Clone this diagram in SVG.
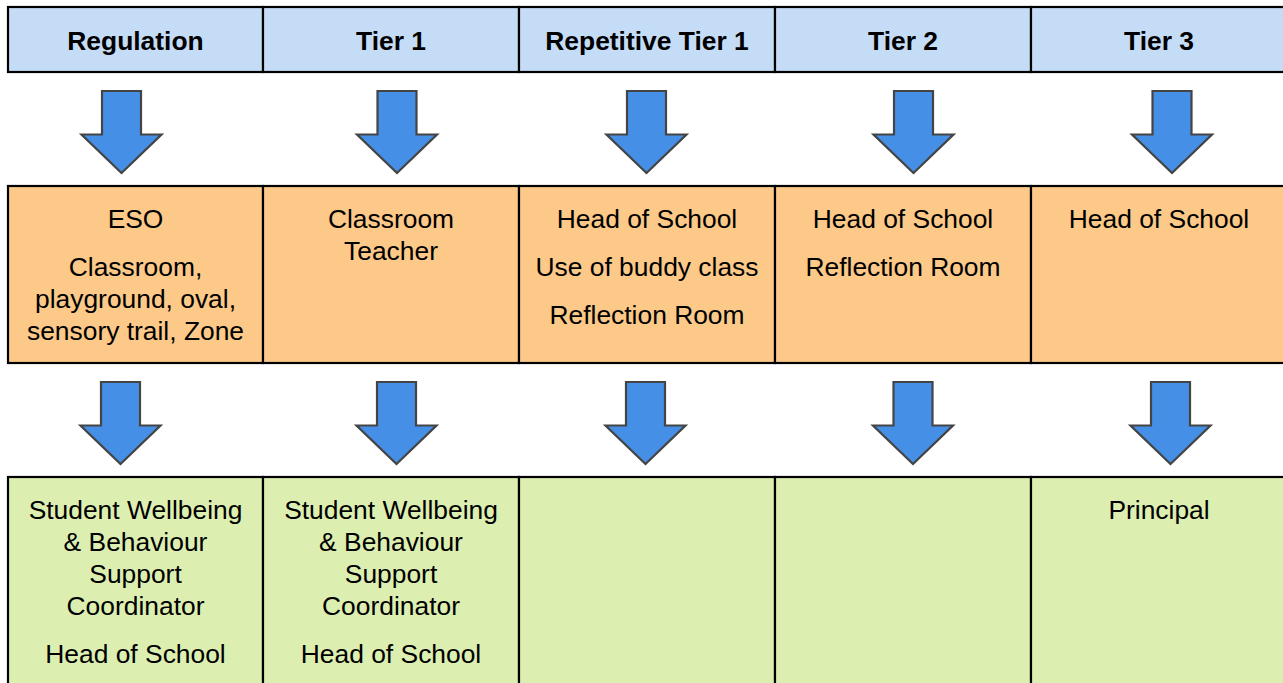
<svg xmlns="http://www.w3.org/2000/svg" xmlns:xlink="http://www.w3.org/1999/xlink" width="1283" height="683" viewBox="0 0 1283 683">
  <style>
    .cell { stroke: #000; stroke-width: 2.2; }
    .head { fill: #c5dcf6; }
    .mid { fill: #fdc988; }
    .low { fill: #dcefb1; }
    text { font-family: "Liberation Sans", Arial, sans-serif; font-size: 26.4px; fill: #000; text-anchor: middle; }
    .bold { font-weight: bold; }
    .arrow { fill: #4590e6; stroke: #444; stroke-width: 2.2; stroke-linejoin: miter; }
  </style>
  <defs>
    <!-- down arrow, origin at top-centre of the shaft -->
    <path id="down" d="M -19.5 0 H 19.5 V 43.5 H 40 L 0 82 L -40 43.5 H -19.5 Z"/>
  </defs>
  <rect width="1283" height="683" fill="#fff"/>

  <!-- header row -->
  <g id="h-regulation"><rect class="cell head" x="8" y="7" width="255" height="65"/><text class="bold" x="135.5" y="49.5">Regulation</text></g>
  <g id="h-tier1"><rect class="cell head" x="263" y="7" width="256" height="65"/><text class="bold" x="391" y="49.5">Tier 1</text></g>
  <g id="h-reptier1"><rect class="cell head" x="519" y="7" width="256" height="65"/><text class="bold" x="647" y="49.5">Repetitive Tier 1</text></g>
  <g id="h-tier2"><rect class="cell head" x="775" y="7" width="256" height="65"/><text class="bold" x="903" y="49.5">Tier 2</text></g>
  <g id="h-tier3"><rect class="cell head" x="1031" y="7" width="260" height="65"/><text class="bold" x="1159" y="49.5">Tier 3</text></g>

  <!-- middle row -->
  <g id="m-regulation"><rect class="cell mid" x="8" y="186" width="255" height="177"/>
    <text x="135.5" y="227.5">ESO</text>
    <text x="135.5" y="275.5">Classroom,</text>
    <text x="135.5" y="307.5">playground, oval,</text>
    <text x="135.5" y="339.5">sensory trail, Zone</text>
  </g>
  <g id="m-tier1"><rect class="cell mid" x="263" y="186" width="256" height="177"/>
    <text x="391" y="227.5">Classroom</text>
    <text x="391" y="259.5">Teacher</text>
  </g>
  <g id="m-reptier1"><rect class="cell mid" x="519" y="186" width="256" height="177"/>
    <text x="647" y="227.5">Head of School</text>
    <text x="647" y="275.5">Use of buddy class</text>
    <text x="647" y="323.5">Reflection Room</text>
  </g>
  <g id="m-tier2"><rect class="cell mid" x="775" y="186" width="256" height="177"/>
    <text x="903" y="227.5">Head of School</text>
    <text x="903" y="275.5">Reflection Room</text>
  </g>
  <g id="m-tier3"><rect class="cell mid" x="1031" y="186" width="260" height="177"/>
    <text x="1159" y="227.5">Head of School</text>
  </g>

  <!-- bottom row -->
  <g id="b-regulation"><rect class="cell low" x="8" y="477" width="255" height="220"/>
    <text x="135.5" y="518.5">Student Wellbeing</text>
    <text x="135.5" y="550.5">&amp; Behaviour</text>
    <text x="135.5" y="582.5">Support</text>
    <text x="135.5" y="614.5">Coordinator</text>
    <text x="135.5" y="662.5">Head of School</text>
  </g>
  <g id="b-tier1"><rect class="cell low" x="263" y="477" width="256" height="220"/>
    <text x="391" y="518.5">Student Wellbeing</text>
    <text x="391" y="550.5">&amp; Behaviour</text>
    <text x="391" y="582.5">Support</text>
    <text x="391" y="614.5">Coordinator</text>
    <text x="391" y="662.5">Head of School</text>
  </g>
  <g id="b-reptier1"><rect class="cell low" x="519" y="477" width="256" height="220"/></g>
  <g id="b-tier2"><rect class="cell low" x="775" y="477" width="256" height="220"/></g>
  <g id="b-tier3"><rect class="cell low" x="1031" y="477" width="260" height="220"/>
    <text x="1159" y="518.5">Principal</text>
  </g>

  <!-- connectors: block arrows between rows -->
  <g id="connectors" class="arrow">
    <use xlink:href="#down" href="#down" x="121.5" y="91"/>
    <use xlink:href="#down" href="#down" x="397" y="91"/>
    <use xlink:href="#down" href="#down" x="646.5" y="91"/>
    <use xlink:href="#down" href="#down" x="913.5" y="91"/>
    <use xlink:href="#down" href="#down" x="1172" y="91"/>
    <use xlink:href="#down" href="#down" x="120.5" y="382"/>
    <use xlink:href="#down" href="#down" x="396.5" y="382"/>
    <use xlink:href="#down" href="#down" x="645.5" y="382"/>
    <use xlink:href="#down" href="#down" x="913" y="382"/>
    <use xlink:href="#down" href="#down" x="1170.5" y="382"/>
  </g>
</svg>
